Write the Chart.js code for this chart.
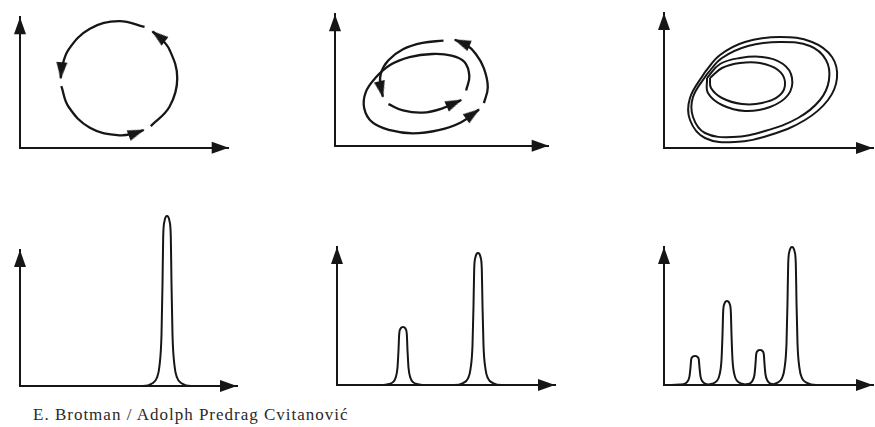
<!DOCTYPE html>
<html>
<head>
<meta charset="utf-8">
<script src="https://cdn.jsdelivr.net/npm/chart.js@4.4.1/dist/chart.umd.min.js"></script>
<style>
  html, body { margin: 0; padding: 0; background: #fff; width: 875px; height: 427px; overflow: hidden; }
  canvas { position: absolute; }
  #caption { position: absolute; left: 33px; top: 407px; font-family: 'Liberation Serif', serif; font-size: 17px; line-height: 16px; letter-spacing: 1px; color: #2a2a2a; white-space: nowrap; }
</style>
</head>
<body>
<canvas id="orbit1"></canvas>
<canvas id="orbit2"></canvas>
<canvas id="orbit4"></canvas>
<canvas id="spec1"></canvas>
<canvas id="spec2"></canvas>
<canvas id="spec4"></canvas>
<div id="caption">E. Brotman / Adolph Predrag Cvitanović</div>
<script>
const INK = '#161616';

// top row: phase-space orbits, [x, y] in axis units (1 unit ~ 1px from the corner)
const circleArcs = [
  [[134.7, 22.7], [154, 43], [162, 73], [154, 103], [142.9, 116.9], [136.4, 122.1]],
  [[128.3, 126.9], [102, 133], [72, 125], [50, 103], [42.6, 81.4], [42, 73]],
  [[42.6, 64.6], [50, 43], [72, 21], [102, 13], [119.5, 15.6], [127.4, 18.6]]
];
const period2Arcs = [
  [[111.7, 110.3], [90, 108], [70, 101.3], [55, 89.7], [47.3, 76.3], [46.7, 63], [49.3, 51.3]],
  [[55, 43.7], [70, 37], [90, 34.7], [110, 39], [130, 48]],
  [[135, 58], [138.3, 73], [133.3, 88], [120, 94.7], [100, 96.3], [76.7, 93], [56.7, 84.7], [41.7, 71.3],
   [31.7, 56.3], [30, 39.7], [38.3, 24.7], [56.7, 16.3], [80, 13], [106.7, 16.3], [130, 24.7], [148.3, 38]],
  [[153.3, 44.7], [157.3, 61.3], [153.3, 81.3], [145, 96.3], [135, 106.3], [123.3, 111.3]]
];
const period4Loops = [
  [[41, 76], [56, 93], [81, 106], [116, 111], [148, 106], [168, 91], [173, 70], [164, 48], [141, 28], [106, 13], [71, 6], [41, 10], [26, 28], [26, 50], [41, 76]],
  [[43, 74], [58, 90], [84, 102], [116, 106], [146, 102], [162, 88], [165, 68], [156, 48], [134, 30], [101, 17], [69, 11], [41, 15], [29, 31], [29, 51], [43, 74]],
  [[43, 70], [56, 84], [76, 90], [98, 91], [119, 84], [128, 70], [124, 53], [106, 41], [81, 37], [58, 43], [44, 55], [43, 70]],
  [[46, 70], [58, 80], [76, 85], [96, 85], [114, 78], [121, 66], [116, 53], [98, 45], [78, 44], [58, 50], [47, 60], [46, 70]]
];

// bottom row: power spectra, peak frequency and peak height
const spectrum1Freq = [147];
const spectrum1Power = [170];
const spectrum2Freq = [66, 141];
const spectrum2Power = [58, 132];
const spectrum4Freq = [31, 63, 96, 128];
const spectrum4Power = [29, 84, 35, 138];

// outline of one drawn peak: [offset from centre, fraction of peak height]
const peakOutline = [[-24, 0], [-15, 0.015], [-10, 0.05], [-7.5, 0.12], [-5.5, 0.3], [-4.5, 0.6], [-3.8, 0.88], [-2.5, 0.97], [-1.2, 0.995], [0, 1]];

// where each chart area sits on the page (corner of the axes to the arrow tips)
const PAD = { left: 12, right: 4, bottom: 8 };
const panels = {
  orbit1: { left: 20, top: 13, width: 215, height: 137, padTop: 6 },
  orbit2: { left: 335, top: 10, width: 220, height: 138, padTop: 6 },
  orbit4: { left: 664, top: 13, width: 209, height: 135, padTop: 6 },
  spec1: { left: 20, top: 250, width: 217, height: 136, padTop: 40 },
  spec2: { left: 337, top: 247, width: 218, height: 138, padTop: 40 },
  spec4: { left: 664, top: 247, width: 209, height: 138, padTop: 40 }
};

function arrowHead(len, wid) {
  const c = document.createElement('canvas');
  c.width = wid + 2;
  c.height = len * 2;
  const g = c.getContext('2d');
  g.fillStyle = INK;
  g.beginPath();
  g.moveTo(c.width / 2, len - 1);
  g.lineTo(c.width / 2 + wid / 2, len * 2);
  g.lineTo(c.width / 2 - wid / 2, len * 2);
  g.closePath();
  g.fill();
  return c;
}
const orbitArrow = arrowHead(16, 11);

const axisArrows = {
  id: 'axisArrows',
  afterDraw(chart) {
    const { ctx, chartArea: a } = chart;
    ctx.save();
    ctx.fillStyle = INK;
    ctx.beginPath();
    ctx.moveTo(a.left, a.top);
    ctx.lineTo(a.left + 6, a.top + 17);
    ctx.lineTo(a.left - 6, a.top + 17);
    ctx.closePath();
    ctx.fill();
    ctx.beginPath();
    ctx.moveTo(a.right, a.bottom);
    ctx.lineTo(a.right - 17, a.bottom - 6);
    ctx.lineTo(a.right - 17, a.bottom + 6);
    ctx.closePath();
    ctx.fill();
    ctx.restore();
  }
};

const toXY = arr => arr.map(p => ({ x: p[0], y: p[1] }));

function arrowRotation(ctx) {
  const d = ctx.dataset.data, n = d.length;
  if (ctx.dataIndex !== n - 1) return 0;
  const sx = ctx.chart.scales.x, sy = ctx.chart.scales.y;
  const dx = sx.getPixelForValue(d[n - 1].x) - sx.getPixelForValue(d[n - 2].x);
  const dy = sy.getPixelForValue(d[n - 1].y) - sy.getPixelForValue(d[n - 2].y);
  return Math.atan2(dx, -dy) * 180 / Math.PI;
}

function orbitDatasets(arcs, withArrows, width) {
  return arcs.map(arc => ({
    data: toXY(arc),
    showLine: true,
    borderColor: INK,
    borderWidth: width,
    tension: 0.4,
    clip: false,
    pointStyle: orbitArrow,
    pointRadius: ctx => (withArrows && ctx.dataIndex === ctx.dataset.data.length - 1) ? 8 : 0,
    pointRotation: arrowRotation
  }));
}

function spectrumDataset(freqs, powers, xMax) {
  const pts = [{ x: 0, y: 0 }];
  freqs.forEach((c, i) => {
    peakOutline.forEach(([dx, f]) => pts.push({ x: c + dx, y: powers[i] * f }));
    peakOutline.slice(0, -1).reverse().forEach(([dx, f]) => pts.push({ x: c - dx, y: powers[i] * f }));
  });
  pts.push({ x: xMax, y: 0 });
  return [{
    data: pts,
    showLine: true,
    borderColor: INK,
    borderWidth: 2,
    cubicInterpolationMode: 'monotone',
    clip: false,
    pointRadius: 0
  }];
}

function axisScale(max) {
  return {
    type: 'linear', min: 0, max: max,
    grid: { display: false, drawTicks: false, tickLength: 0 },
    ticks: { display: false },
    border: { display: true, color: INK, width: 2 }
  };
}

function makePanel(id, datasets) {
  const box = panels[id];
  const el = document.getElementById(id);
  el.width = box.width + PAD.left + PAD.right;
  el.height = box.height + box.padTop + PAD.bottom;
  el.style.left = (box.left - PAD.left) + 'px';
  el.style.top = (box.top - box.padTop) + 'px';
  new Chart(el, {
    type: 'scatter',
    data: { datasets: datasets },
    options: {
      responsive: false,
      animation: false,
      events: [],
      layout: { padding: { left: PAD.left, right: PAD.right, top: box.padTop, bottom: PAD.bottom } },
      plugins: { legend: { display: false }, tooltip: { enabled: false } },
      scales: { x: axisScale(box.width), y: axisScale(box.height) }
    },
    plugins: [axisArrows]
  });
}

makePanel('orbit1', orbitDatasets(circleArcs, true, 2.3));
makePanel('orbit2', orbitDatasets(period2Arcs, true, 2.3));
makePanel('orbit4', orbitDatasets(period4Loops, false, 2));
makePanel('spec1', spectrumDataset(spectrum1Freq, spectrum1Power, panels.spec1.width));
makePanel('spec2', spectrumDataset(spectrum2Freq, spectrum2Power, panels.spec2.width));
makePanel('spec4', spectrumDataset(spectrum4Freq, spectrum4Power, panels.spec4.width));
</script>
</body>
</html>
